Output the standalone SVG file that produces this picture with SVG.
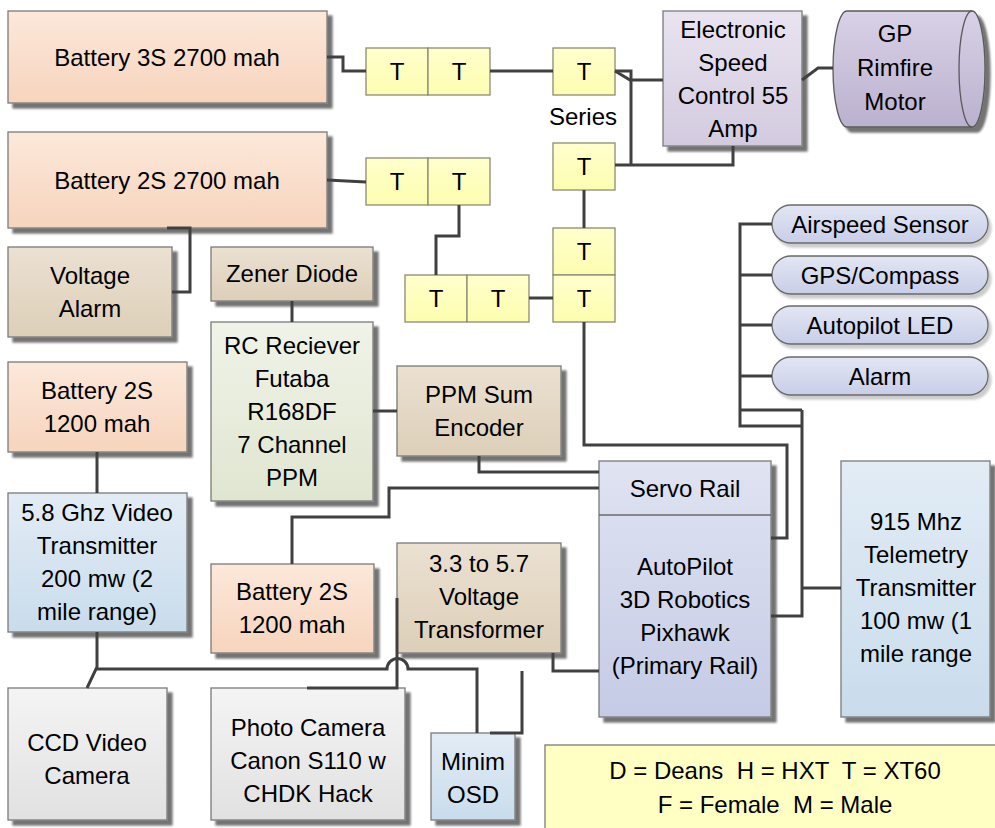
<svg xmlns="http://www.w3.org/2000/svg" width="995" height="828" viewBox="0 0 995 828">
<defs>
<linearGradient id="gPeach" x1="0" y1="0" x2="0" y2="1"><stop offset="0" stop-color="#fce8da"/><stop offset="1" stop-color="#f7d4bd"/></linearGradient>
<linearGradient id="gTan" x1="0" y1="0" x2="0" y2="1"><stop offset="0" stop-color="#ebe1d2"/><stop offset="1" stop-color="#ddcfb8"/></linearGradient>
<linearGradient id="gGreen" x1="0" y1="0" x2="0" y2="1"><stop offset="0" stop-color="#f0f3e8"/><stop offset="1" stop-color="#dfe6d0"/></linearGradient>
<linearGradient id="gBlue" x1="0" y1="0" x2="0" y2="1"><stop offset="0" stop-color="#e2ecf5"/><stop offset="1" stop-color="#c9dcec"/></linearGradient>
<linearGradient id="gGray" x1="0" y1="0" x2="0" y2="1"><stop offset="0" stop-color="#f4f4f4"/><stop offset="1" stop-color="#e1e1e1"/></linearGradient>
<linearGradient id="gLav" x1="0" y1="0" x2="0" y2="1"><stop offset="0" stop-color="#e9e4f0"/><stop offset="1" stop-color="#d3cadf"/></linearGradient>
<linearGradient id="gMotor" x1="0" y1="0" x2="0" y2="1"><stop offset="0" stop-color="#d9d1e6"/><stop offset="1" stop-color="#bbb1cf"/></linearGradient>
<linearGradient id="gAP" x1="0" y1="0" x2="0" y2="1"><stop offset="0" stop-color="#dfe3f2"/><stop offset="1" stop-color="#c5cbe5"/></linearGradient>
<linearGradient id="gPill" x1="0" y1="0" x2="0" y2="1"><stop offset="0" stop-color="#e2e6f4"/><stop offset="1" stop-color="#c8cee8"/></linearGradient>
<linearGradient id="gT" x1="0" y1="0" x2="0" y2="1"><stop offset="0" stop-color="#ffffcc"/><stop offset="1" stop-color="#fdfdb0"/></linearGradient>
<filter id="sh" x="-10%" y="-10%" width="130%" height="130%">
<feGaussianBlur in="SourceAlpha" stdDeviation="0.8"/><feOffset dx="5" dy="5"/>
<feComponentTransfer><feFuncA type="linear" slope="0.55"/></feComponentTransfer>
<feMerge><feMergeNode/><feMergeNode in="SourceGraphic"/></feMerge>
</filter>
<filter id="shl" x="-10%" y="-20%" width="130%" height="160%">
<feGaussianBlur in="SourceAlpha" stdDeviation="1.2"/><feOffset dx="3" dy="4"/>
<feComponentTransfer><feFuncA type="linear" slope="0.2"/></feComponentTransfer>
<feMerge><feMergeNode/><feMergeNode in="SourceGraphic"/></feMerge>
</filter>
</defs>
<style>
.box{stroke:#7a7a7a;stroke-width:1.3;filter:url(#sh)}
.tb{fill:url(#gT);stroke:#8c8c74;stroke-width:1.3}
.pill{fill:url(#gPill);stroke:#6a6a6a;stroke-width:1.3;filter:url(#shl)}
.peach{fill:url(#gPeach)}
.tan{fill:url(#gTan)}
.green{fill:url(#gGreen)}
.blue{fill:url(#gBlue)}
.gray{fill:url(#gGray)}
.lav{fill:url(#gLav)}
.ap{fill:url(#gAP)}
text{font-family:"Liberation Sans",Arial,sans-serif;font-size:24px;fill:#000;text-anchor:middle}
.ln{fill:none;stroke:#404040;stroke-width:3}
</style>
<rect width="995" height="828" fill="#fff"/>

<g id="bat3s"><rect class="box peach" x="8" y="11" width="319" height="92"/><text x="167" y="66">Battery 3S 2700 mah</text></g>
<g id="bat2s2700"><rect class="box peach" x="8" y="132" width="319" height="96"/><text x="167" y="189">Battery 2S 2700 mah</text></g>
<g id="voltage-alarm"><rect class="box tan" x="8" y="247" width="164" height="90"/><text x="90" y="284">Voltage</text><text x="90" y="317">Alarm</text></g>
<g id="zener"><rect class="box tan" x="211" y="247" width="162" height="54"/><text x="292" y="282">Zener Diode</text></g>
<g id="rc-receiver"><rect class="box green" x="211" y="322" width="162" height="179"/><text x="292" y="354">RC Reciever</text><text x="292" y="387">Futaba</text><text x="292" y="420">R168DF</text><text x="292" y="453">7 Channel</text><text x="292" y="486">PPM</text></g>
<g id="bat2s1200a"><rect class="box peach" x="8" y="362" width="179" height="90"/><text x="97" y="399">Battery 2S</text><text x="97" y="432">1200 mah</text></g>
<g id="video-tx"><rect class="box blue" x="8" y="493" width="179" height="139"/><text x="97" y="521">5.8 Ghz Video</text><text x="97" y="554">Transmitter</text><text x="97" y="587">200 mw (2</text><text x="97" y="620">mile range)</text></g>
<g id="ccd"><rect class="box gray" x="8" y="688" width="159" height="132"/><text x="87" y="751">CCD Video</text><text x="87" y="784">Camera</text></g>
<g id="photo"><rect class="box gray" x="211" y="688" width="194" height="132"/><text x="308" y="736">Photo Camera</text><text x="308" y="769">Canon S110 w</text><text x="308" y="802">CHDK Hack</text></g>
<g id="minim-osd"><rect class="box blue" x="431" y="733" width="84" height="87"/><text x="473" y="770">Minim</text><text x="473" y="803">OSD</text></g>
<g id="bat2s1200b"><rect class="box peach" x="211" y="564" width="163" height="89"/><text x="292" y="600">Battery 2S</text><text x="292" y="633">1200 mah</text></g>
<g id="ppm-encoder"><rect class="box tan" x="397" y="366" width="164" height="90"/><text x="479" y="403">PPM Sum</text><text x="479" y="436">Encoder</text></g>
<g id="transformer"><rect class="box tan" x="397" y="543" width="164" height="110"/><text x="479" y="572">3.3 to 5.7</text><text x="479" y="605">Voltage</text><text x="479" y="638">Transformer</text></g>
<g id="autopilot"><rect class="box ap" x="599" y="461" width="172" height="256"/><line x1="599" y1="515" x2="771" y2="515" stroke="#6a6a6a" stroke-width="1.3"/><text x="685" y="497">Servo Rail</text><text x="685" y="575">AutoPilot</text><text x="685" y="608">3D Robotics</text><text x="685" y="641">Pixhawk</text><text x="685" y="674">(Primary Rail)</text></g>
<g id="telemetry"><rect class="box blue" x="841" y="461" width="149" height="256"/><text x="916" y="530">915 Mhz</text><text x="916" y="563">Telemetry</text><text x="916" y="596">Transmitter</text><text x="916" y="629">100 mw (1</text><text x="916" y="662">mile range</text></g>
<g id="esc"><rect class="box lav" x="663" y="11" width="139" height="135"/><text x="733" y="38">Electronic</text><text x="733" y="71">Speed</text><text x="733" y="104">Control 55</text><text x="733" y="137">Amp</text></g>
<g id="motor"><path d="M847,11 H972 A13,58 0 0 1 972,127 H847 A14,58 0 0 1 847,11 Z" fill="url(#gMotor)" stroke="#5a5a5a" stroke-width="1.3" filter="url(#sh)"/><path d="M972,11 A13,58 0 0 0 972,127" fill="none" stroke="#5a5a5a" stroke-width="1.3"/><text x="895" y="42">GP</text><text x="895" y="76">Rimfire</text><text x="895" y="110">Motor</text></g>
<g id="airspeed"><rect class="pill" x="772" y="205" width="216" height="38" rx="19"/><text x="880" y="233">Airspeed Sensor</text></g>
<g id="gps"><rect class="pill" x="772" y="256" width="216" height="38" rx="19"/><text x="880" y="284">GPS/Compass</text></g>
<g id="ap-led"><rect class="pill" x="772" y="306" width="216" height="38" rx="19"/><text x="880" y="334">Autopilot LED</text></g>
<g id="alarm"><rect class="pill" x="772" y="357" width="216" height="38" rx="19"/><text x="880" y="385">Alarm</text></g>

<g id="t1"><rect class="tb" x="366" y="48" width="62" height="47"/><text x="397" y="80">T</text></g>
<g id="t2"><rect class="tb" x="428" y="48" width="62" height="47"/><text x="459" y="80">T</text></g>
<g id="t3"><rect class="tb" x="553" y="48" width="62" height="47"/><text x="584" y="80">T</text></g>
<g id="t4"><rect class="tb" x="553" y="143" width="62" height="47"/><text x="584" y="175">T</text></g>
<g id="t5"><rect class="tb" x="366" y="158" width="62" height="47"/><text x="397" y="190">T</text></g>
<g id="t6"><rect class="tb" x="428" y="158" width="62" height="47"/><text x="459" y="190">T</text></g>
<g id="t7"><rect class="tb" x="553" y="228" width="62" height="47"/><text x="584" y="260">T</text></g>
<g id="t8"><rect class="tb" x="553" y="275" width="62" height="47"/><text x="584" y="307">T</text></g>
<g id="t9"><rect class="tb" x="405" y="275" width="62" height="47"/><text x="436" y="307">T</text></g>
<g id="t10"><rect class="tb" x="467" y="275" width="62" height="47"/><text x="498" y="307">T</text></g>
<text x="583" y="125">Series</text>

<g id="legend"><rect x="545" y="745" width="460" height="100" fill="#ffffc4" stroke="#7a7a7a" stroke-width="1.3"/><text x="775" y="779" style="white-space:pre">D = Deans  H = HXT  T = XT60</text><text x="775" y="813" style="white-space:pre">F = Female  M = Male</text></g>

<g id="connectors">
<path class="ln" d="M327,57 H343 V71 H366"/>
<path class="ln" d="M490,71 H553"/>
<path class="ln" d="M615,71 L630,80 H663"/>
<path class="ln" d="M615,71 H631 V165"/>
<path class="ln" d="M615,165 H733 V146"/>
<path class="ln" d="M802,80 L818,68 H833"/>
<path class="ln" d="M327,180 L366,182"/>
<path class="ln" d="M459,205 V236 H436 V275"/>
<path class="ln" d="M529,298 H553"/>
<path class="ln" d="M584,190 V228"/>
<path class="ln" d="M584,322 V445 H787 V538 H771"/>
<path class="ln" d="M772,224 H740 V426 H802"/>
<path class="ln" d="M740,275 H772 M740,325 H772 M740,376 H772 M740,410 H802"/>
<path class="ln" d="M802,410 V616 H771"/>
<path class="ln" d="M802,588 H841"/>
<path class="ln" d="M167,228 H190 V292 H172"/>
<path class="ln" d="M292,301 V322"/>
<path class="ln" d="M373,411 H397"/>
<path class="ln" d="M479,456 V472 H599"/>
<path class="ln" d="M292,564 V517 H389 V488 H599"/>
<path class="ln" d="M97,452 V493"/>
<path class="ln" d="M97,632 V667 L87,688"/>
<path class="ln" d="M97,669 H387 A10.5,10.5 0 0 1 408,669 H477 V733"/>
<path class="ln" d="M307,688 H397 V598"/>
<path class="ln" d="M553,653 V671 H599"/>
<path class="ln" d="M490,733 H522 V671"/>
</g>
</svg>
